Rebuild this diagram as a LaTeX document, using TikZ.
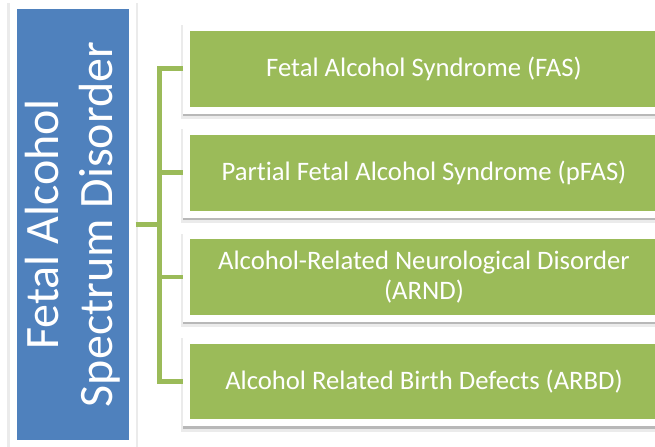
\documentclass[tikz,border=0pt]{standalone}
\usepackage{fontspec}
\setmainfont{Carlito}[Ligatures=NoCommon]
\usetikzlibrary{positioning}
\definecolor{fasgreen}{HTML}{9BBB59}
\definecolor{fasblue}{HTML}{4F81BD}

\begin{document}
\begin{tikzpicture}[x=0.75pt, y=-0.75pt,
    framed/.style={draw=white, line width=5.25pt,
      preaction={draw=black!8, line width=8.5pt, transform canvas={yshift=-2.6pt}},
      preaction={draw=black!28, line width=5.25pt, transform canvas={xshift=0.3pt, yshift=-1.9pt}}},
    kind/.style={framed, fill=fasgreen, text=white, align=center, inner sep=0pt,
      minimum width=356.25pt, minimum height=61.9pt, font=\fontsize{20}{22.5}\selectfont},
    spectrum/.style={framed, fill=fasblue, text=white, align=center, inner sep=0pt, rotate=90,
      minimum width=328.5pt, minimum height=89.25pt, font=\fontsize{36}{40.5}\selectfont},
    link/.style={draw=fasgreen, line width=3.6pt}]
  \useasboundingbox (0,0) rectangle (655,446);
  \clip (0,0) rectangle (655,446);

  \node[spectrum] (fasd) at (72.5,224.5) {Fetal Alcohol\\Spectrum Disorder};

  \node[kind] (fas) at (424,68.75) {Fetal Alcohol Syndrome (FAS)};
  \node[kind] (pfas) at (424,172.75) {Partial Fetal Alcohol Syndrome (pFAS)};
  \node[kind] (arnd) at (424,277) {Alcohol-Related Neurological Disorder\\(ARND)};
  \node[kind] (arbd) at (424,381.5) {Alcohol Related Birth Defects (ARBD)};

  \coordinate (trunk) at (159.5,224.5);
  \draw[link] (fasd.south) -- (trunk);
  \draw[link] (fas.west) -| (trunk |- arbd.west) -- (arbd.west);
  \draw[link] (trunk |- pfas.west) -- (pfas.west);
  \draw[link] (trunk |- arnd.west) -- (arnd.west);
\end{tikzpicture}
\end{document}
